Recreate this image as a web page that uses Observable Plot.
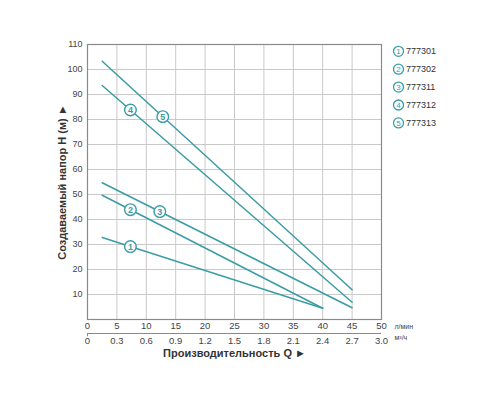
<!DOCTYPE html>
<html><head><meta charset="utf-8">
<script src="https://cdn.jsdelivr.net/npm/d3@7"></script>
<script src="https://cdn.jsdelivr.net/npm/@observablehq/plot@0.6"></script>
<style>body{margin:0;background:#fff} svg{display:block}</style>
</head><body><div id="chart"></div>
<script>
// Data
const seriesNames = ["1","2","3","4","5"];
const models = ["777301","777302","777311","777312","777313"];
const flowStart = [2.5, 2.5, 2.5, 2.5, 2.5];
const flowEnd = [40, 40, 45, 45, 45];
const headStart = [32.8, 49.7, 54.7, 93.6, 103.3];
const headEnd = [4.5, 4.5, 4.7, 6.9, 11.9];
const labelFlow = [7.3, 7.3, 12.3, 7.3, 12.8];
const xTicks = [0, 5, 10, 15, 20, 25, 30, 35, 40, 45, 50];
const yTicks = [10, 20, 30, 40, 50, 60, 70, 80, 90, 100, 110];
const m3hTicks = ["0", "0.3", "0.6", "0.9", "1.2", "1.5", "1.8", "2.1", "2.4", "2.7", "3.0"];
const yTitle = "Создаваемый напор H (м) ►";
const xTitle = "Производительность Q ►";
const unitLmin = "л/мин";
const unitM3h = "м³/ч";

const teal = "#3a9ca4";
const textColor = "#444";

const lineData = seriesNames.flatMap((s, i) => [
  {series: s, q: flowStart[i], h: headStart[i]},
  {series: s, q: flowEnd[i], h: headEnd[i]}
]);
const labelData = seriesNames.map((s, i) => {
  const t = (labelFlow[i] - flowStart[i]) / (flowEnd[i] - flowStart[i]);
  return {series: s, q: labelFlow[i], h: headStart[i] + t * (headEnd[i] - headStart[i])};
});

const plot = Plot.plot({
  width: 500,
  height: 400,
  marginLeft: 87,
  marginRight: 119,
  marginTop: 44,
  marginBottom: 81,
  style: {fontFamily: "'Liberation Sans', Arial, sans-serif", fontSize: "9px", color: textColor, background: "#fff"},
  x: {domain: [0, 50]},
  y: {domain: [0, 110]},
  marks: [
    Plot.gridX(xTicks.slice(1, -1), {stroke: "#c9c9c9", strokeOpacity: 1}),
    Plot.gridY(yTicks.slice(0, -1), {stroke: "#c9c9c9", strokeOpacity: 1}),
    Plot.frame({stroke: "#8a8a8a", strokeWidth: 1.2}),
    Plot.axisX(xTicks, {tickSize: 0, tickPadding: 3, fill: textColor, fontSize: 9.5, label: null}),
    Plot.axisY(yTicks, {tickSize: 0, tickPadding: 5, fill: textColor, fontSize: 9, label: null}),
    Plot.ruleY([0], {dy: 14, stroke: "#8a8a8a"}),
    Plot.ruleX([0], {y1: 0, y2: -1.3, dy: 14, stroke: "#8a8a8a"}),
    Plot.text(m3hTicks, {x: d => parseFloat(d) / 0.06, frameAnchor: "bottom", lineAnchor: "middle", dy: 21, text: d => d, fill: textColor, fontSize: 9.5}),
    Plot.text([unitLmin], {frameAnchor: "bottom-right", lineAnchor: "middle", dx: 13, dy: 7, textAnchor: "start", text: d => d, fill: textColor, fontSize: 7}),
    Plot.text([unitM3h], {frameAnchor: "bottom-right", lineAnchor: "middle", dx: 13, dy: 18, textAnchor: "start", text: d => d, fill: textColor, fontSize: 7}),
    Plot.text([xTitle], {frameAnchor: "bottom", lineAnchor: "middle", dy: 34, text: d => d, fontWeight: "bold", fontSize: 11, fill: "#333"}),
    Plot.text([yTitle], {frameAnchor: "left", textAnchor: "middle", lineAnchor: "middle", dx: -25, rotate: -90, text: d => d, fontWeight: "bold", fontSize: 11, fill: "#333"}),
    Plot.line(lineData, {x: "q", y: "h", z: "series", stroke: teal, strokeWidth: 1.5}),
    Plot.dot(labelData, {x: "q", y: "h", r: 5.8, fill: "white", stroke: teal, strokeWidth: 1.4}),
    Plot.text(labelData, {x: "q", y: "h", text: "series", fill: teal, fontSize: 9, fontWeight: "bold", dy: 0.5})
  ]
});

// Legend
const svg = d3.select(plot);
const lg = svg.append("g").attr("font-family", "'Liberation Sans', Arial, sans-serif");
models.forEach((m, i) => {
  const y = 51.3 + i * 17.9;
  lg.append("circle").attr("cx", 398.5).attr("cy", y).attr("r", 5)
    .attr("fill", "white").attr("stroke", teal).attr("stroke-width", 1.3);
  lg.append("text").attr("x", 398.5).attr("y", y).attr("dy", "0.35em")
    .attr("text-anchor", "middle").attr("font-size", 8).attr("fill", teal).text(seriesNames[i]);
  lg.append("text").attr("x", 406).attr("y", y).attr("dy", "0.35em")
    .attr("text-anchor", "start").attr("font-size", 9).attr("fill", "#333").text(m);
});

document.getElementById("chart").appendChild(plot);
</script>
</body></html>
